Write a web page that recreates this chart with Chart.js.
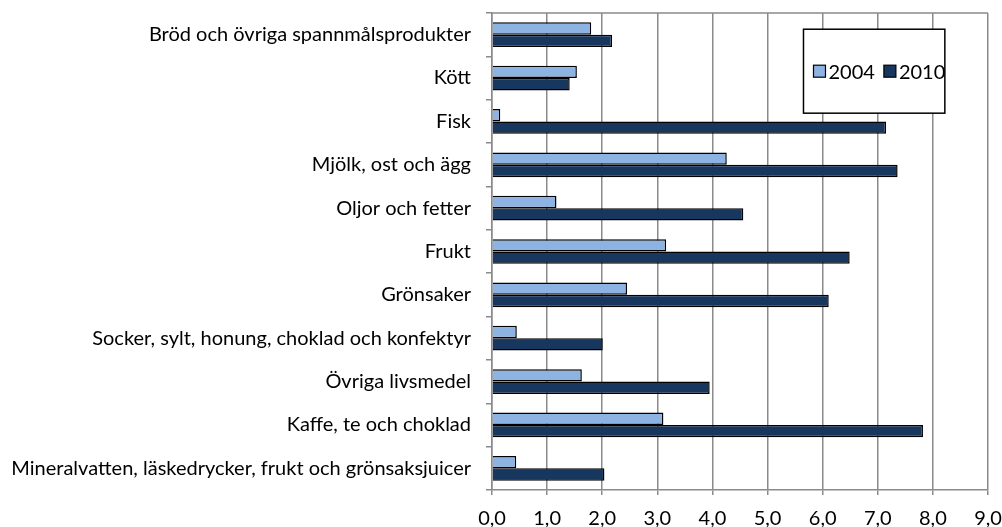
<!DOCTYPE html>
<html>
<head>
<meta charset="utf-8">
<script src="https://cdn.jsdelivr.net/npm/chart.js@4/dist/chart.umd.min.js"></script>
<style>
  html, body { margin: 0; padding: 0; background: #fff; }
  #wrap { width: 1002px; height: 527px; }
</style>
</head>
<body>
<div id="wrap"><canvas id="bar_chart" width="1002" height="527"></canvas></div>
<script>
var categories = [
    "Bröd och övriga spannmålsprodukter",
    "Kött",
    "Fisk",
    "Mjölk, ost och ägg",
    "Oljor och fetter",
    "Frukt",
    "Grönsaker",
    "Socker, sylt, honung, choklad och konfektyr",
    "Övriga livsmedel",
    "Kaffe, te och choklad",
    "Mineralvatten, läskedrycker, frukt och grönsaksjuicer"
];
var values2004 = [1.80, 1.54, 0.15, 4.26, 1.17, 3.16, 2.45, 0.45, 1.63, 3.11, 0.44];
var values2010 = [2.18, 1.41, 7.15, 7.36, 4.56, 6.49, 6.11, 2.01, 3.95, 7.82, 2.04];
var xMin = 0, xMax = 9, xStep = 1;

var fontFamily = "Lato, 'Noto Sans', sans-serif";
var fontSize = 20;
var gridColor = '#8a8a8a';

// grey frame along the top of the plot area
var frame = {
    id: 'frame',
    beforeDatasetsDraw: function (chart) {
        var ca = chart.chartArea, ctx = chart.ctx;
        ctx.save();
        ctx.strokeStyle = gridColor;
        ctx.lineWidth = 1.5;
        ctx.beginPath();
        ctx.moveTo(ca.left, ca.top);
        ctx.lineTo(ca.right, ca.top);
        ctx.stroke();
        ctx.restore();
    }
};

// boxed legend inside the plot, like the Excel original
var boxLegend = {
    id: 'boxLegend',
    afterDraw: function (chart) {
        var ca = chart.chartArea, ctx = chart.ctx;
        var w = ca.right - ca.left, h = ca.bottom - ca.top;
        var left = ca.left + w * 0.628, right = ca.left + w * 0.913;
        var top = ca.top + h * 0.034, bottom = ca.top + h * 0.21;
        ctx.save();
        ctx.fillStyle = '#fff';
        ctx.fillRect(left, top, right - left, bottom - top);
        ctx.strokeStyle = '#000';
        ctx.lineWidth = 1.5;
        ctx.strokeRect(left, top, right - left, bottom - top);
        ctx.font = fontSize + 'px ' + fontFamily;
        ctx.textBaseline = 'middle';
        var x = left + 10, y = (top + bottom) / 2, sq = 12;
        chart.data.datasets.forEach(function (ds) {
            ctx.fillStyle = ds.backgroundColor;
            ctx.fillRect(x, y - sq / 2, sq, sq);
            ctx.strokeStyle = '#000';
            ctx.lineWidth = 1.2;
            ctx.strokeRect(x, y - sq / 2, sq, sq);
            ctx.fillStyle = '#000';
            ctx.fillText(ds.label, x + sq + 3, y + 1);
            x += sq + 3 + ctx.measureText(ds.label).width + 9;
        });
        ctx.restore();
    }
};

new Chart(document.getElementById("bar_chart").getContext("2d"), {
    type: 'bar',
    data: {
        labels: categories,
        datasets: [{
            label: "2004",
            data: values2004,
            backgroundColor: '#8db3e2',
            borderColor: '#000',
            borderWidth: 1.5
        }, {
            label: "2010",
            data: values2010,
            backgroundColor: '#17375e',
            borderColor: '#000',
            borderWidth: 1.5
        }]
    },
    options: {
        indexAxis: 'y',
        responsive: false,
        animation: false,
        categoryPercentage: 0.57,
        barPercentage: 1,
        layout: { padding: { top: 13, right: 14, left: 0, bottom: 0 } },
        plugins: {
            legend: { display: false },
            tooltip: { enabled: false }
        },
        scales: {
            x: {
                min: xMin,
                max: xMax,
                afterFit: function (scale) {
                    scale.height = 37;
                    scale.paddingLeft = 0;
                    scale.paddingRight = 0;
                },
                ticks: {
                    stepSize: xStep,
                    color: '#000',
                    padding: 12,
                    font: { family: fontFamily, size: fontSize },
                    callback: function (v) { return v.toFixed(1).replace('.', ','); }
                },
                grid: { color: gridColor, lineWidth: 1.5, tickLength: 5 },
                border: { color: gridColor, width: 1.5 }
            },
            y: {
                afterFit: function (scale) {
                    scale.width = 492;
                    scale.paddingTop = 0;
                    scale.paddingBottom = 0;
                },
                ticks: {
                    color: '#000',
                    padding: 15,
                    font: { family: fontFamily, size: fontSize }
                },
                grid: { drawOnChartArea: false, color: gridColor, lineWidth: 1.5, tickLength: 6 },
                border: { color: gridColor, width: 1.5 }
            }
        }
    },
    plugins: [frame, boxLegend]
});
</script>
</body>
</html>
